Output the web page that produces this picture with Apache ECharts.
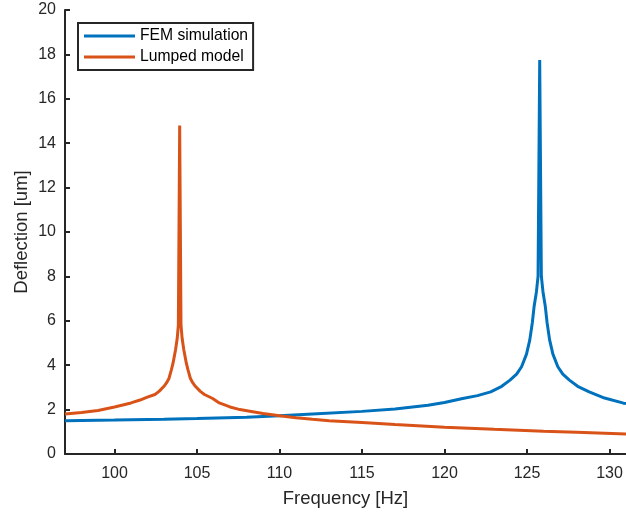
<!DOCTYPE html>
<html>
<head>
<meta charset="utf-8">
<script src="https://cdn.jsdelivr.net/npm/echarts@6/dist/echarts.min.js"></script>
<style>
  html, body { margin: 0; padding: 0; background: #fff; }
  #main { width: 626px; height: 515px; }
</style>
</head>
<body>
<div id="main"></div>
<script>
// frequency [Hz] / deflection [um] samples
var femFreq = [97, 100, 103, 105, 108, 110, 112, 115, 117, 119, 120, 121.1, 122, 122.8, 123.47, 123.97, 124.37, 124.67, 124.97, 125.17, 125.32, 125.43, 125.57, 125.67, 125.77,
    125.87, 125.97, 126.11, 126.22, 126.37, 126.57, 126.87, 127.17, 127.57, 128.07, 128.77, 129.7, 130.85, 131];
var femDefl = [1.50, 1.53, 1.57, 1.60, 1.66, 1.72, 1.80, 1.92, 2.03, 2.20, 2.32, 2.50, 2.63, 2.80, 3.05, 3.33, 3.60, 3.93, 4.50, 5.14, 5.90, 6.64, 7.30, 8.0, 17.75,
    8.0, 7.30, 6.64, 5.90, 5.14, 4.50, 3.93, 3.60, 3.33, 3.05, 2.80, 2.52, 2.29, 2.27];

var lumpFreq = [97, 98, 99, 100, 101, 101.55, 101.95, 102.45, 102.7, 103.0, 103.15, 103.3, 103.45, 103.55, 103.7, 103.8, 103.87, 103.95,
    104.03, 104.1, 104.2, 104.35, 104.45, 104.6, 104.75, 104.9, 105.2, 105.45, 105.95, 106.35, 107, 107.6, 108.2, 109, 110, 111, 112, 113, 115, 117, 120, 123, 126, 128, 131];
var lumpDefl = [1.80, 1.87, 1.96, 2.12, 2.30, 2.43, 2.55, 2.68, 2.82, 3.05, 3.20, 3.40, 3.80, 4.10, 4.70, 5.20, 5.80, 14.8,
    5.80, 5.20, 4.70, 4.10, 3.80, 3.40, 3.20, 3.05, 2.82, 2.68, 2.50, 2.30, 2.12, 2.00, 1.93, 1.82, 1.72, 1.63, 1.56, 1.50, 1.42, 1.33, 1.21, 1.11, 1.03, 0.98, 0.90];

var xTicks = [100, 105, 110, 115, 120, 125, 130];
var seriesNames = ['FEM simulation', 'Lumped model'];

function pairs(xs, ys) {
    var out = [];
    for (var i = 0; i < xs.length; i++) out.push([xs[i], ys[i]]);
    return out;
}

var axisColor = '#262626';
var chart = echarts.init(document.getElementById('main'));
var option = {
    animation: false,
    textStyle: { fontFamily: 'Liberation Sans, Arial, sans-serif' },
    grid: { left: 65, right: 0, top: 10, bottom: 61 },
    legend: {
        orient: 'vertical',
        left: 78,
        top: 23,
        padding: [5, 5, 5, 6],
        itemGap: 5,
        itemWidth: 51,
        itemHeight: 3,
        icon: 'rect',
        borderColor: axisColor,
        borderWidth: 2,
        borderRadius: 0,
        backgroundColor: '#fff',
        data: seriesNames,
        textStyle: { fontSize: 15.7, color: '#000', lineHeight: 16 }
    },
    xAxis: {
        type: 'value',
        min: 97,
        max: 131,
        name: 'Frequency [Hz]',
        nameLocation: 'middle',
        nameGap: 35,
        nameMoveOverlap: false,
        nameTextStyle: { fontSize: 18.5, color: axisColor },
        axisLine: { lineStyle: { color: axisColor, width: 2 } },
        axisTick: { inside: true, length: 5, customValues: xTicks, lineStyle: { color: axisColor, width: 2 } },
        axisLabel: { customValues: xTicks, fontSize: 16, color: axisColor, margin: 12 },
        splitLine: { show: false }
    },
    yAxis: {
        type: 'value',
        min: 0,
        max: 20,
        interval: 2,
        name: 'Deflection [um]',
        nameLocation: 'middle',
        nameGap: 34,
        nameMoveOverlap: false,
        nameTextStyle: { fontSize: 18.5, color: axisColor },
        axisLine: { show: true, lineStyle: { color: axisColor, width: 2 } },
        axisTick: { show: true, inside: true, length: 5, lineStyle: { color: axisColor, width: 2 } },
        axisLabel: { fontSize: 16, color: axisColor, margin: 9 },
        splitLine: { show: false }
    },
    series: [
        {
            name: seriesNames[0],
            type: 'line',
            showSymbol: false,
            symbol: 'none',
            itemStyle: { color: '#0072BD' },
            lineStyle: { color: '#0072BD', width: 3 },
            data: pairs(femFreq, femDefl)
        },
        {
            name: seriesNames[1],
            type: 'line',
            showSymbol: false,
            symbol: 'none',
            itemStyle: { color: '#D95319' },
            lineStyle: { color: '#D95319', width: 3 },
            data: pairs(lumpFreq, lumpDefl)
        }
    ]
};
chart.setOption(option);
</script>
</body>
</html>
